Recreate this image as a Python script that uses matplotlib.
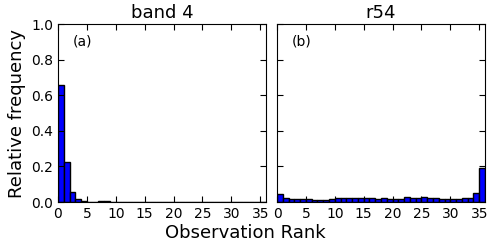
import numpy as np
import matplotlib
matplotlib.use("Agg")
import matplotlib.pyplot as plt

# observation rank bins (0..35) and relative frequencies
ranks = np.arange(36)
band4_freq = [0.657, 0.223, 0.054, 0.017, 0.003, 0.002, 0.002, 0.003, 0.003, 0.002,
              0.002, 0.002, 0.001, 0.001, 0.001, 0.001, 0.001, 0.001, 0.001, 0.001,
              0.001, 0.001, 0.001, 0.001, 0.001, 0.001, 0.001, 0.001, 0.001, 0.001,
              0.001, 0.001, 0.001, 0.001, 0.001, 0.001]
r54_freq = [0.043, 0.020, 0.015, 0.017, 0.017, 0.015, 0.013, 0.012, 0.012, 0.015,
            0.020, 0.022, 0.025, 0.020, 0.020, 0.022, 0.022, 0.015, 0.025, 0.018,
            0.018, 0.016, 0.030, 0.020, 0.020, 0.027, 0.020, 0.020, 0.018, 0.018,
            0.018, 0.015, 0.020, 0.025, 0.049, 0.193]
titles = ["band 4", "r54"]
panel_labels = ["(a)", "(b)"]

fig = plt.figure(figsize=(4.91, 2.45), dpi=100)
ax1 = fig.add_axes([58 / 491, 43 / 245, 208 / 491, 178 / 245])
ax2 = fig.add_axes([277 / 491, 43 / 245, 208 / 491, 178 / 245])

for ax, freq, title, lab in zip([ax1, ax2], [band4_freq, r54_freq], titles, panel_labels):
    ax.bar(ranks, freq, width=1.0, align="edge", color="blue", edgecolor="black", linewidth=1.0)
    ax.set_xlim(0, 36)
    ax.set_ylim(0, 1.0)
    ax.set_xticks(np.arange(0, 36, 5))
    ax.set_yticks(np.arange(0, 1.01, 0.2))
    ax.tick_params(direction="in", top=True, right=True, labelsize=10, length=4)
    ax.set_title(title, fontsize=13, pad=4)
    ax.text(0.07, 0.9, lab, transform=ax.transAxes, fontsize=10, va="center")

ax1.set_ylabel("Relative frequency", fontsize=13)
ax2.set_yticklabels([])
fig.text(0.5, 0.012, "Observation Rank", ha="center", va="bottom", fontsize=13)

fig.savefig("out.png", dpi=100)
